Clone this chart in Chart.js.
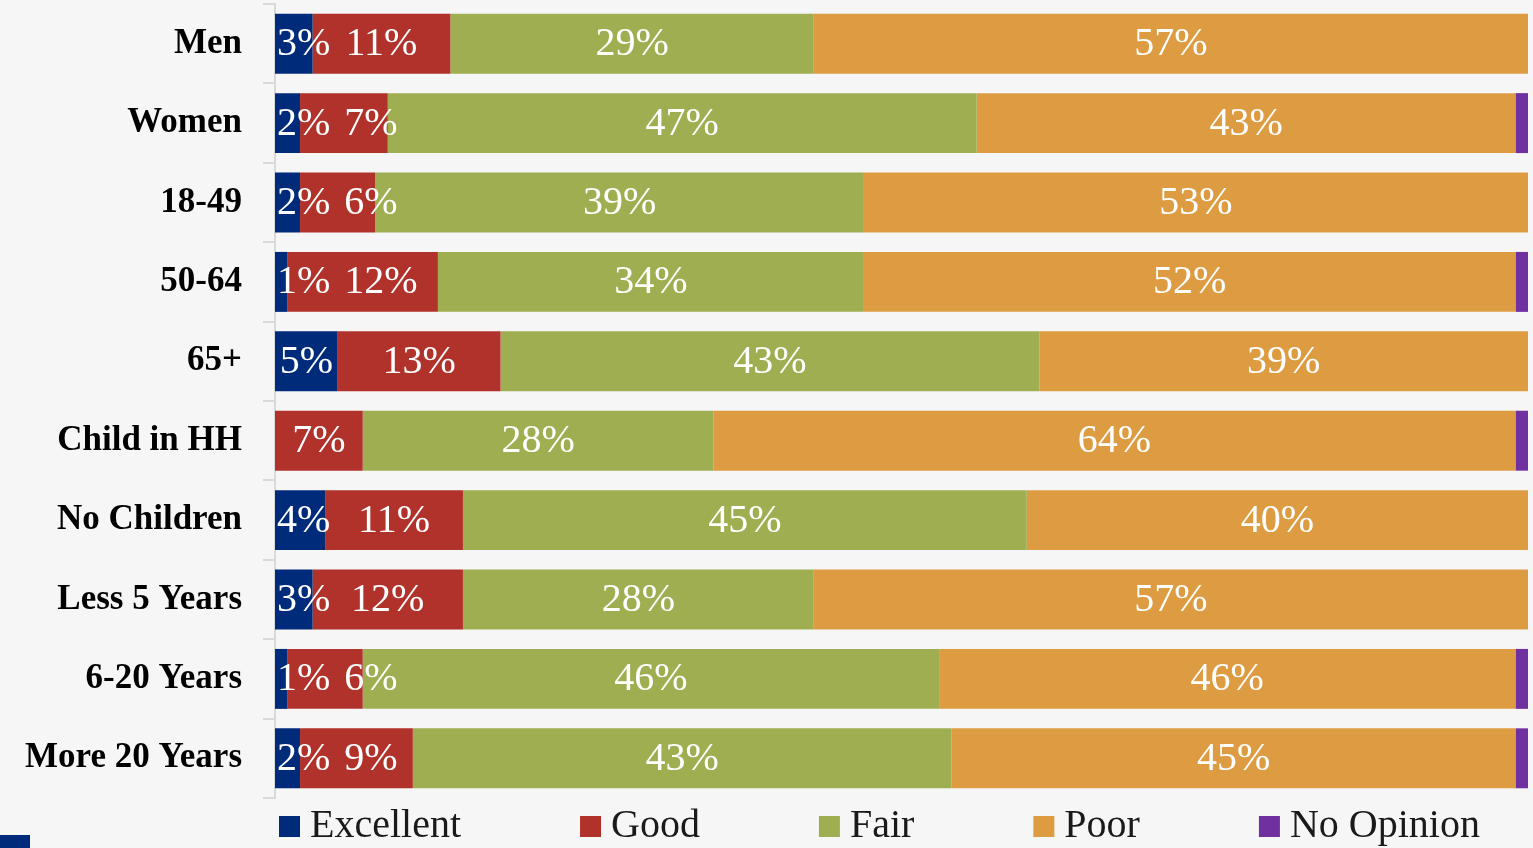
<!DOCTYPE html>
<html>
<head>
<meta charset="utf-8">
<script src="https://cdn.jsdelivr.net/npm/chart.js@4.4.1/dist/chart.umd.min.js"></script>
<style>
  html, body { margin: 0; padding: 0; background: #f6f6f6; }
  #wrap { position: relative; width: 1533px; height: 848px; }
  #corner { position: absolute; left: 0; top: 835px; width: 30px; height: 13px; background: #002a7a; }
</style>
</head>
<body>
<div id="wrap">
  <canvas id="chart"></canvas>
  <div id="corner"></div>
</div>
<script>
// 数据
const categories = ['Men', 'Women', '18-49', '50-64', '65+', 'Child in HH', 'No Children', 'Less 5 Years', '6-20 Years', 'More 20 Years'];
const seriesNames = ['Excellent', 'Good', 'Fair', 'Poor', 'No Opinion'];
const excellent = [3, 2, 2, 1, 5, 0, 4, 3, 1, 2];
const good = [11, 7, 6, 12, 13, 7, 11, 12, 6, 9];
const fair = [29, 47, 39, 34, 43, 28, 45, 28, 46, 43];
const poor = [57, 43, 53, 52, 39, 64, 40, 57, 46, 45];
const noOpinion = [0, 1, 0, 1, 0, 1, 0, 0, 1, 1];

const colors = ['#002a7a', '#b0322b', '#a0ae52', '#de9c42', '#7030a0'];
const serif = '"Liberation Serif", "Times New Roman", serif';

// 段内标签：居中，重叠时向右推
const segmentLabels = {
    id: 'segmentLabels',
    afterDatasetsDraw(chart) {
        const ctx = chart.ctx;
        const area = chart.chartArea;
        ctx.save();
        ctx.font = '40px ' + serif;
        ctx.fillStyle = '#ffffff';
        ctx.textBaseline = 'middle';
        ctx.textAlign = 'left';
        categories.forEach((cat, i) => {
            let prevRight = area.left - 100;
            chart.data.datasets.forEach((ds, d) => {
                if (d === 4) return; // No Opinion 不显示标签
                const v = ds.data[i];
                if (!v) return;
                const bar = chart.getDatasetMeta(d).data[i];
                const text = v + '%';
                const w = ctx.measureText(text).width;
                const cx = (bar.base + bar.x) / 2;
                let left = cx - w / 2;
                left = Math.max(left, area.left + 2, prevRight + 14);
                ctx.fillText(text, left, bar.y + 1);
                prevRight = left + w;
            });
        });
        ctx.restore();
    }
};

// 图例：自己画，间距按原图
const bottomLegend = {
    id: 'bottomLegend',
    afterDraw(chart) {
        const ctx = chart.ctx;
        ctx.save();
        ctx.font = '40px ' + serif;
        ctx.textBaseline = 'middle';
        ctx.textAlign = 'left';
        let x = 279;
        const y = 826;
        chart.data.datasets.forEach((ds) => {
            ctx.fillStyle = ds.backgroundColor;
            ctx.fillRect(x, y - 10, 21, 21);
            ctx.fillStyle = '#1a1a1a';
            ctx.fillText(ds.label, x + 31, y);
            x += 31 + ctx.measureText(ds.label).width + 119;
        });
        ctx.restore();
    }
};

const allSeries = [excellent, good, fair, poor, noOpinion];

new Chart(document.getElementById('chart'), {
    type: 'bar',
    data: {
        labels: categories,
        datasets: allSeries.map((values, k) => ({
            label: seriesNames[k],
            data: values,
            backgroundColor: colors[k],
            borderWidth: 0,
            barPercentage: 0.755,
            categoryPercentage: 1
        }))
    },
    options: {
        indexAxis: 'y',
        responsive: true,
        maintainAspectRatio: false,
        animation: false,
        layout: {
            padding: { top: 4, right: 5, bottom: 50, left: 0 }
        },
        scales: {
            x: {
                stacked: true,
                min: 0,
                max: 100,
                display: false
            },
            y: {
                stacked: true,
                afterFit: (scale) => {
                    scale.width = 275;
                    scale.paddingTop = 0;
                    scale.paddingBottom = 0;
                },
                grid: {
                    offset: true,
                    drawOnChartArea: false,
                    tickLength: 12,
                    color: '#d9d9d9',
                    lineWidth: 2
                },
                border: {
                    color: '#d9d9d9',
                    width: 2
                },
                ticks: {
                    color: '#000000',
                    padding: 21,
                    font: {
                        family: serif,
                        size: 35,
                        weight: 'bold'
                    }
                }
            }
        },
        plugins: {
            legend: { display: false },
            tooltip: { enabled: false }
        }
    },
    plugins: [segmentLabels, bottomLegend]
});
</script>
</body>
</html>
